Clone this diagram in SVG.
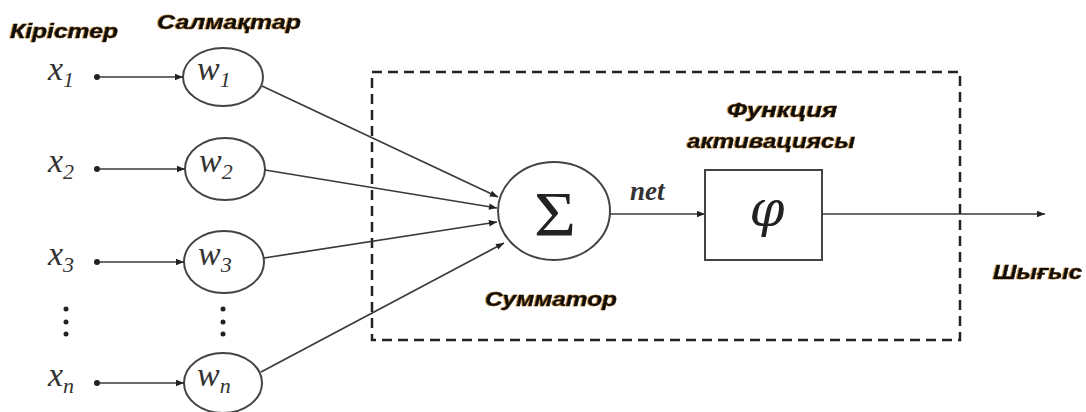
<svg xmlns="http://www.w3.org/2000/svg" width="1086" height="412" viewBox="0 0 1086 412">
<defs>
<marker id="ah" viewBox="0 0 10 10" refX="10" refY="5" markerWidth="11" markerHeight="8" markerUnits="userSpaceOnUse" orient="auto">
<path d="M0,1 L10,5 L0,9 Z" fill="#222"/>
</marker>
<filter id="sh" x="-5%" y="-20%" width="110%" height="140%">
<feDropShadow dx="-1" dy="0" stdDeviation="0.4" flood-color="#e09020" flood-opacity="0.8"/>
</filter>
</defs>
<style>
.lbl{font-family:"Liberation Sans",Arial,sans-serif;font-weight:bold;font-style:italic;font-size:21px;fill:#111;stroke:#111;stroke-width:0.5}
.m{font-family:"Liberation Serif","Times New Roman",serif;font-style:italic;fill:#333}
.mx{font-size:34px}
.sub{font-size:22px}
.node{fill:#fff;stroke:#444;stroke-width:2}
.edge{stroke:#3a3a3a;stroke-width:1.7;fill:none}
.dot{fill:#222}
</style>
<rect width="1086" height="412" fill="#fff"/>
<g id="labels">
<text class="lbl" x="10" y="38" textLength="108" lengthAdjust="spacingAndGlyphs" filter="url(#sh)">Кірістер</text>
<text class="lbl" x="157" y="29" textLength="144" lengthAdjust="spacingAndGlyphs" filter="url(#sh)">Салмақтар</text>
<text class="lbl" x="727" y="117" textLength="110" lengthAdjust="spacingAndGlyphs" filter="url(#sh)">Функция</text>
<text class="lbl" x="687" y="148" textLength="168" lengthAdjust="spacingAndGlyphs" filter="url(#sh)">активациясы</text>
<text class="lbl" x="485" y="306" textLength="132" lengthAdjust="spacingAndGlyphs" filter="url(#sh)">Сумматор</text>
<text class="lbl" x="993" y="279" textLength="89" lengthAdjust="spacingAndGlyphs" filter="url(#sh)">Шығыс</text>
</g>
<g id="box">
<rect x="372" y="72" width="588" height="268" fill="none" stroke="#222" stroke-width="2.5" stroke-dasharray="10,6"/>
</g>
<g id="inputs">
<text class="m" x="48" y="80"><tspan class="mx">x</tspan><tspan class="sub" dy="7">1</tspan></text>
<text class="m" x="48" y="172"><tspan class="mx">x</tspan><tspan class="sub" dy="7">2</tspan></text>
<text class="m" x="48" y="265"><tspan class="mx">x</tspan><tspan class="sub" dy="7">3</tspan></text>
<text class="m" x="48" y="386"><tspan class="mx">x</tspan><tspan class="sub" dy="7">n</tspan></text>
<circle class="dot" cx="97" cy="77" r="3"/>
<circle class="dot" cx="97" cy="169" r="3"/>
<circle class="dot" cx="97" cy="262" r="3"/>
<circle class="dot" cx="97" cy="383" r="3"/>
<circle class="dot" cx="66" cy="309" r="2.5"/>
<circle class="dot" cx="66" cy="322" r="2.5"/>
<circle class="dot" cx="66" cy="334" r="2.5"/>
<circle class="dot" cx="223" cy="309" r="2.5"/>
<circle class="dot" cx="223" cy="322" r="2.5"/>
<circle class="dot" cx="223" cy="334" r="2.5"/>
</g>
<g id="w1"><ellipse class="node" cx="223" cy="77" rx="40" ry="29"/><text class="m" x="197" y="80"><tspan class="mx">w</tspan><tspan class="sub" dy="7">1</tspan></text></g>
<g id="w2"><ellipse class="node" cx="225" cy="169" rx="40" ry="31"/><text class="m" x="199" y="172"><tspan class="mx">w</tspan><tspan class="sub" dy="7">2</tspan></text></g>
<g id="w3"><ellipse class="node" cx="224" cy="262" rx="40" ry="31"/><text class="m" x="198" y="265"><tspan class="mx">w</tspan><tspan class="sub" dy="7">3</tspan></text></g>
<g id="wn"><ellipse class="node" cx="223" cy="383" rx="39" ry="30"/><text class="m" x="197" y="386"><tspan class="mx">w</tspan><tspan class="sub" dy="7">n</tspan></text></g>
<g id="sum"><ellipse class="node" cx="554" cy="211" rx="56" ry="49"/><text x="555" y="236" text-anchor="middle" font-family="Liberation Serif,serif" font-size="64" fill="#222" textLength="42" lengthAdjust="spacingAndGlyphs">Σ</text></g>
<g id="act"><rect class="node" x="705" y="170" width="117" height="90"/><text x="767" y="226" text-anchor="middle" font-family="DejaVu Serif,serif" font-style="italic" font-size="50" fill="#222">φ</text></g>
<text class="m" x="630" y="200" font-size="27" font-weight="bold" fill="#444">net</text>
<g id="connectors">
<line class="edge" x1="100" y1="77" x2="183" y2="77" marker-end="url(#ah)"/>
<line class="edge" x1="100" y1="169" x2="185" y2="169" marker-end="url(#ah)"/>
<line class="edge" x1="100" y1="262" x2="184" y2="262" marker-end="url(#ah)"/>
<line class="edge" x1="100" y1="383" x2="184" y2="383" marker-end="url(#ah)"/>
<line class="edge" x1="262" y1="86" x2="498" y2="197" marker-end="url(#ah)"/>
<line class="edge" x1="265" y1="170" x2="497" y2="208" marker-end="url(#ah)"/>
<line class="edge" x1="264" y1="258" x2="497" y2="222" marker-end="url(#ah)"/>
<line class="edge" x1="261" y1="372" x2="504" y2="243" marker-end="url(#ah)"/>
<line class="edge" x1="610" y1="214" x2="705" y2="214" marker-end="url(#ah)"/>
<line class="edge" x1="822" y1="214" x2="1045" y2="214" marker-end="url(#ah)"/>
</g>
</svg>
